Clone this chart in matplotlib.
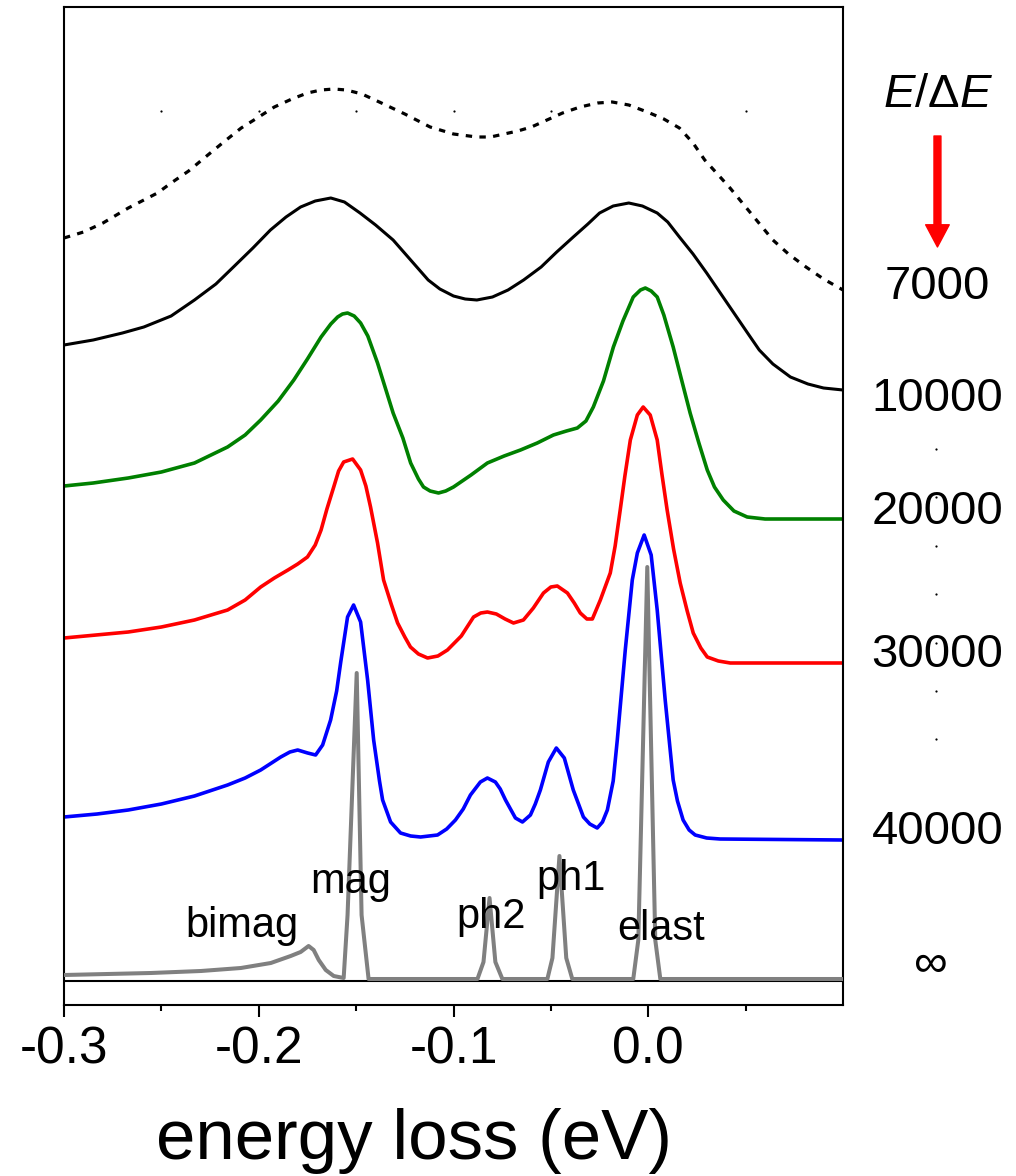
import matplotlib
matplotlib.use("Agg")
import matplotlib.pyplot as plt

plt.rcParams['font.family'] = ['Liberation Sans', 'DejaVu Sans']
plt.rcParams['mathtext.fontset'] = 'custom'
plt.rcParams['mathtext.rm'] = 'Liberation Sans'
plt.rcParams['mathtext.it'] = 'Liberation Sans:italic'

# spectra, energy loss (eV) vs intensity (arb. units, offset)
energy_7000 = [-0.300, -0.290, -0.280, -0.267, -0.252, -0.245, -0.236, -0.228, -0.218, -0.209,
               -0.200, -0.192, -0.183, -0.175, -0.168, -0.1615, -0.155, -0.147, -0.137, -0.125,
               -0.112, -0.100, -0.088, -0.081, -0.074, -0.067, -0.060, -0.052, -0.044, -0.035,
               -0.026, -0.0185, -0.010, -0.0005, 0.008, 0.016, 0.023, 0.029, 0.036, 0.042,
               0.053, 0.064, 0.072, 0.081, 0.090, 0.100]
intens_7000 = [743, 749, 758, 773, 788, 798, 810, 823, 839, 853,
               864, 874, 882, 888, 891, 892, 891, 887, 878, 867,
               854, 847, 844, 844, 847, 850, 854, 861, 868, 874,
               878, 879, 876, 869, 862, 853, 838, 821, 806, 793,
               767, 741, 727, 714, 702, 691]

energy_10000 = [-0.300, -0.285, -0.270, -0.259, -0.245, -0.233, -0.222, -0.213, -0.203, -0.194,
                -0.186, -0.1785, -0.171, -0.163, -0.156, -0.148, -0.140, -0.131, -0.122, -0.113,
                -0.107, -0.100, -0.094, -0.088, -0.080, -0.072, -0.064, -0.055, -0.047, -0.0385,
                -0.031, -0.025, -0.018, -0.010, -0.003, 0.0046, 0.010, 0.016, 0.023, 0.030,
                0.037, 0.044, 0.051, 0.057, 0.064, 0.073, 0.082, 0.090, 0.100]
intens_10000 = [636, 641, 648, 654, 665, 681, 697, 714, 733, 751,
                764, 774, 780, 783, 779, 768, 756, 741, 721, 701,
                692, 685, 682, 681, 684, 691, 701, 714, 729, 744,
                757, 768, 775, 778, 775, 768, 759, 744, 727, 708,
                688, 668, 648, 631, 617, 604, 597, 593, 591]

energy_20000 = [-0.300, -0.285, -0.267, -0.250, -0.233, -0.216, -0.207, -0.199, -0.190, -0.182,
                -0.175, -0.168, -0.163, -0.1595, -0.157, -0.1544, -0.151, -0.1477, -0.144, -0.139,
                -0.135, -0.131, -0.126, -0.122, -0.118, -0.1154, -0.112, -0.1077, -0.104, -0.100,
                -0.091, -0.0826, -0.074, -0.0656, -0.057, -0.0487, -0.042, -0.0364, -0.032, -0.0282,
                -0.023, -0.0179, -0.013, -0.0077, -0.004, -0.0015, 0.0015, 0.0046, 0.008, 0.0128,
                0.017, 0.0215, 0.026, 0.0303, 0.034, 0.0385, 0.044, 0.0508, 0.060, 0.0764,
                0.100]
intens_20000 = [495, 498, 503, 509, 518, 534, 546, 561, 580, 601,
                622, 644, 657, 664, 667, 668, 665, 658, 645, 618,
                593, 568, 543, 518, 502, 494, 490, 488, 490, 494,
                506, 518, 525, 531, 538, 546, 550, 553, 560, 574,
                600, 634, 660, 684, 691, 693, 690, 684, 666, 634,
                602, 568, 538, 511, 494, 481, 470, 464, 462, 462,
                462]

energy_30000 = [-0.300, -0.267, -0.250, -0.233, -0.216, -0.207, -0.199, -0.192, -0.185, -0.180,
                -0.175, -0.171, -0.168, -0.165, -0.1615, -0.159, -0.1564, -0.1518, -0.1477, -0.145,
                -0.1426, -0.139, -0.1359, -0.132, -0.1287, -0.125, -0.1221, -0.118, -0.1133, -0.108,
                -0.1031, -0.096, -0.0897, -0.086, -0.0826, -0.078, -0.0735, -0.0692, -0.0641, -0.059,
                -0.0538, -0.050, -0.0467, -0.0415, -0.038, -0.0349, -0.0315, -0.0287, -0.0246, -0.0195,
                -0.017, -0.0144, -0.012, -0.0092, -0.0056, -0.0026, 0.0010, 0.0046, 0.007, 0.0097,
                0.013, 0.0164, 0.020, 0.0231, 0.027, 0.0303, 0.036, 0.0421, 0.100]
intens_30000 = [343, 349, 354, 361, 371, 381, 394, 403, 411, 417,
                424, 436, 451, 472, 494, 510, 519, 522, 511, 495,
                474, 438, 401, 377, 358, 344, 334, 327, 323, 325,
                331, 345, 364, 368, 369, 367, 362, 358, 361, 373,
                388, 394, 395, 388, 378, 368, 362, 362, 381, 408,
                435, 471, 505, 541, 566, 574, 566, 541, 507, 471,
                432, 398, 370, 348, 333, 324, 320, 318, 318]

energy_40000 = [-0.300, -0.283, -0.267, -0.250, -0.233, -0.216, -0.207, -0.199, -0.1887, -0.184,
                -0.180, -0.1749, -0.1708, -0.1672, -0.1631, -0.160, -0.1579, -0.1544, -0.1513, -0.1477,
                -0.1441, -0.1410, -0.138, -0.1364, -0.1323, -0.1272, -0.122, -0.1169, -0.1082, -0.1035,
                -0.0990, -0.095, -0.0913, -0.0862, -0.0826, -0.0785, -0.076, -0.0733, -0.0682, -0.0646,
                -0.0605, -0.058, -0.0554, -0.0513, -0.0472, -0.0431, -0.0385, -0.0333, -0.030, -0.0262,
                -0.0235, -0.0210, -0.018, -0.0159, -0.0118, -0.0082, -0.0056, -0.0021, 0.0015, 0.0046,
                0.0087, 0.0128, 0.015, 0.0179, 0.021, 0.0241, 0.030, 0.0369, 0.100]
intens_40000 = [164, 167, 171, 177, 185, 196, 203, 211, 224, 229,
                231, 228, 226, 236, 261, 290, 319, 364, 376, 359,
                301, 241, 200, 181, 159, 148, 145, 144, 146, 152,
                161, 172, 186, 199, 203, 199, 192, 181, 163, 159,
                166, 177, 191, 219, 233, 223, 191, 164, 157, 153,
                159, 171, 200, 241, 331, 401, 428, 446, 426, 371,
                281, 201, 180, 161, 151, 146, 143, 142, 141]

energy_inf = [-0.300, -0.2554, -0.2297, -0.2092, -0.1938, -0.1836, -0.1785, -0.1744, -0.1718, -0.1692,
              -0.1656, -0.1615, -0.1564, -0.1544, -0.1497, -0.1472, -0.1436, -0.0877, -0.0846, -0.0815,
              -0.0785, -0.0749, -0.0518, -0.0492, -0.0456, -0.0421, -0.0390, -0.0077, -0.0051, -0.0005,
              0.0036, 0.0062, 0.100]
intens_inf = [6, 8, 10, 13, 18, 25, 29, 35, 31, 21,
              11, 5, 3, 66, 308, 66, 2, 2, 19, 83,
              19, 2, 2, 23, 125, 23, 2, 2, 41, 414,
              41, 2, 2]

resolutions = ['7000', '10000', '20000', '30000', '40000', '\u221e']
res_label_x = [0.1485, 0.1485, 0.1485, 0.1485, 0.1485, 0.145]
res_label_y = [694, 582, 469, 326, 149, 16]

peak_names = ['bimag', 'mag', 'ph2', 'ph1', 'elast']
peak_label_x = [-0.2087, -0.153, -0.0805, -0.0395, 0.0067]
peak_label_y = [44, 88, 53, 91, 41]

grid_dots_x = [-0.25, -0.20, -0.15, -0.10, -0.05, 0.05]
side_dots_y = [532, 484, 435, 387, 338, 290, 242]

fig = plt.figure(figsize=(10.16, 11.76), dpi=100)
ax = fig.add_axes([64 / 1016, 171 / 1176, 779 / 1016, 998 / 1176])

ax.axhline(0, color='black', lw=1.5, zorder=1)
ax.plot(energy_7000, intens_7000, color='black', lw=2.3, linestyle=(0, (2, 2.3)), clip_on=False)
ax.plot(energy_10000, intens_10000, color='black', lw=2.2)
ax.plot(energy_20000, intens_20000, color='#008000', lw=2.6)
ax.plot(energy_30000, intens_30000, color='#ff0000', lw=2.6)
ax.plot(energy_40000, intens_40000, color='#0000ff', lw=2.6)
ax.plot(energy_inf, intens_inf, color='#808080', lw=2.9, zorder=3)

# stray dots in the original
ax.plot(grid_dots_x, [870] * len(grid_dots_x), 'o', color='black', ms=1.6, mec='none')
ax.plot([0.148] * len(side_dots_y), side_dots_y, 'o', color='black', ms=1.6, mec='none', clip_on=False)

for name, px, py in zip(peak_names, peak_label_x, peak_label_y):
    ax.text(px, py, name, ha='center', va='baseline', fontsize=30)

for lab, lx, ly in zip(resolutions, res_label_x, res_label_y):
    ax.text(lx, ly, lab, ha='center', va='center', fontsize=34, clip_on=False)

ax.text(0.149, 886, r'$E/\Delta E$', ha='center', va='center', fontsize=34, clip_on=False)
ax.annotate('', xy=(0.1485, 734), xytext=(0.1485, 845),
            arrowprops=dict(color='red', width=5, headwidth=17, headlength=16, shrink=0),
            annotation_clip=False)

ax.set_xlim(-0.3, 0.1)
ax.set_ylim(-24, 974)
ax.set_xticks([-0.3, -0.2, -0.1, 0.0])
ax.set_xticklabels(['-0.3', '-0.2', '-0.1', '0.0'])
ax.set_xticks([-0.25, -0.15, -0.05, 0.05], minor=True)
ax.set_yticks([])
ax.tick_params(axis='x', which='major', direction='out', length=8.6, width=1.5, labelsize=37, pad=6)
ax.tick_params(axis='x', which='minor', direction='out', length=4, width=1.5)
for sp in ax.spines.values():
    sp.set_linewidth(1.5)

fig.text(414 / 1016, 17 / 1176, 'energy loss (eV)', ha='center', va='baseline', fontsize=51)

fig.savefig('out.png', dpi=100)
